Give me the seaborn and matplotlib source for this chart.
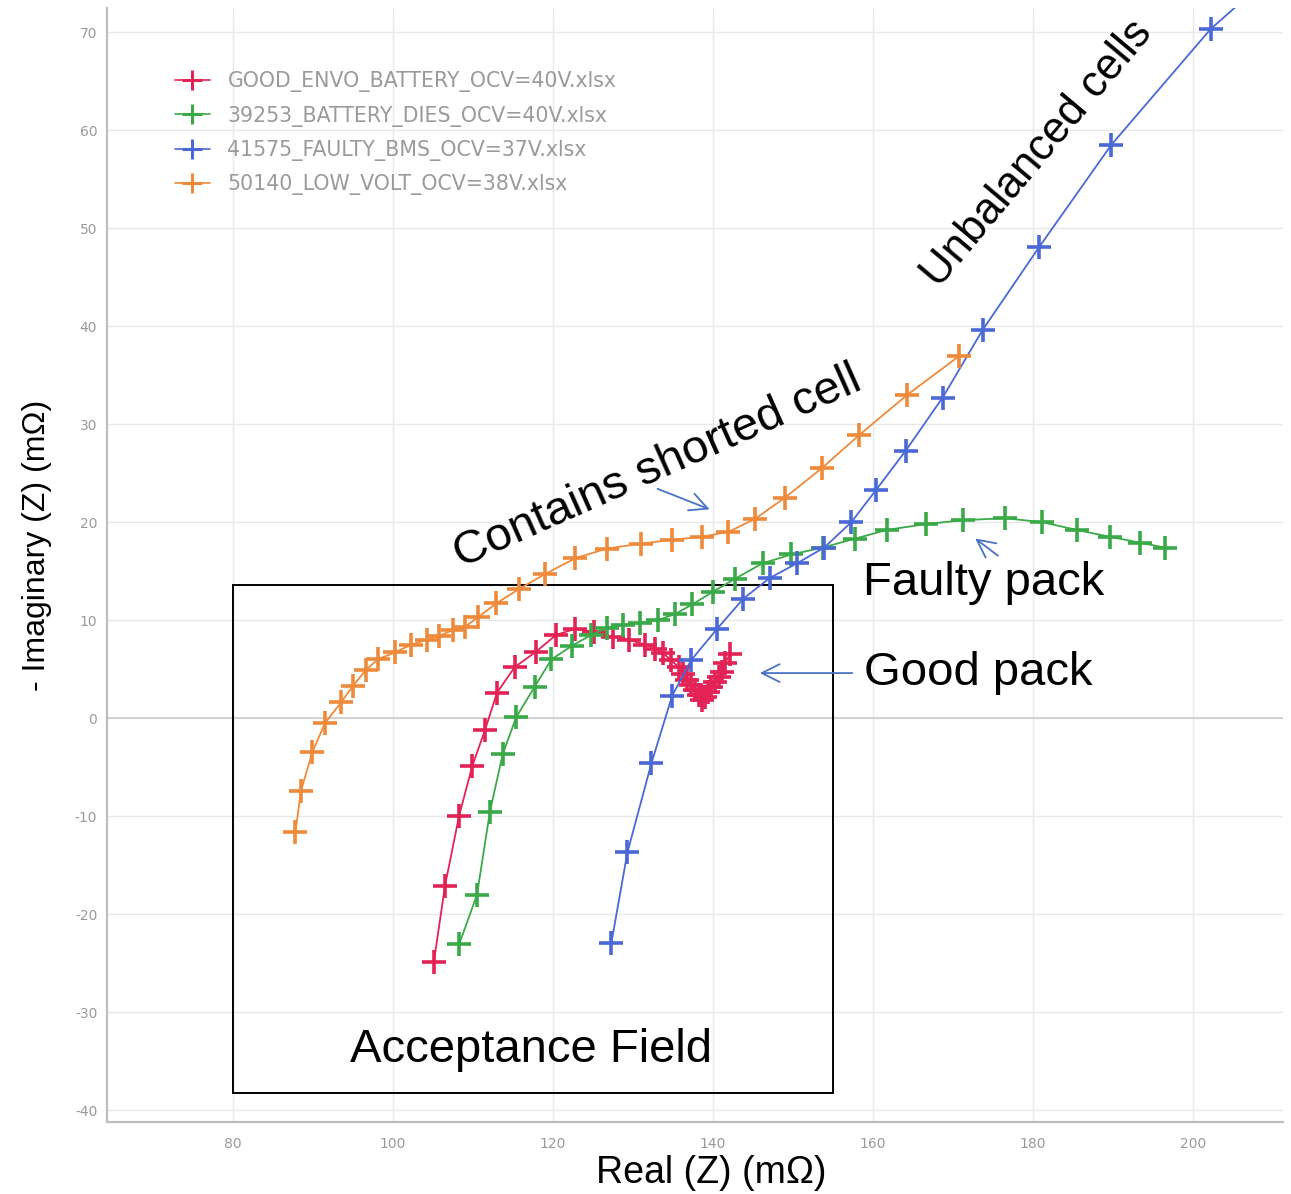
import matplotlib
matplotlib.use("Agg")
import matplotlib.pyplot as plt
import matplotlib.patches as patches
from matplotlib.lines import Line2D
import seaborn as sns
import pandas as pd

# ---- data ----
series_names = [
    "GOOD_ENVO_BATTERY_OCV=40V.xlsx",
    "39253_BATTERY_DIES_OCV=40V.xlsx",
    "41575_FAULTY_BMS_OCV=37V.xlsx",
    "50140_LOW_VOLT_OCV=38V.xlsx",
]
series_colors = ["#e32256", "#3aaa48", "#4a68d6", "#ef8a3a"]

red_x = [105.1, 106.5, 108.25, 109.9, 111.5, 113.0, 115.2, 117.9, 120.4, 122.75,
         125.1, 127.5, 129.5, 131.5, 132.75, 133.8, 134.8, 135.7, 136.3, 136.7,
         137.3, 137.75, 138.2, 138.6, 139.0, 139.4, 139.8, 140.25, 140.7, 141.1,
         141.5, 142.1]
red_y = [-24.9, -17.1, -10.0, -4.9, -1.2, 2.6, 5.2, 6.8, 8.5, 9.1,
         8.8, 8.3, 8.0, 7.5, 7.1, 6.6, 5.9, 5.2, 4.5, 3.9,
         3.4, 2.9, 2.35, 1.85, 2.2, 2.7, 3.2, 3.7, 4.2, 4.7,
         5.6, 6.5]

green_x = [108.3, 110.5, 112.1, 113.7, 115.4, 117.7, 119.8, 122.4, 124.8, 126.7,
           128.8, 130.9, 133.1, 135.2, 137.4, 140.0, 142.7, 146.2, 149.8, 153.7,
           157.7, 161.7, 166.6, 171.3, 176.5, 181.1, 185.5, 189.6, 193.4, 196.5]
green_y = [-23.0, -18.0, -9.6, -3.7, 0.1, 3.2, 6.0, 7.4, 8.5, 9.2,
           9.5, 9.7, 10.0, 10.6, 11.6, 12.9, 14.2, 15.8, 16.7, 17.4,
           18.3, 19.2, 19.8, 20.2, 20.4, 20.0, 19.2, 18.5, 17.9, 17.4]

blue_x = [127.3, 129.3, 132.3, 134.9, 137.25, 140.5, 143.8, 147.1, 150.5, 153.9,
          157.3, 160.4, 164.1, 168.7, 173.7, 180.8, 189.8, 202.2, 214.0]
blue_y = [-22.9, -13.7, -4.6, 2.3, 5.9, 9.1, 12.2, 14.3, 15.8, 17.4,
          20.0, 23.3, 27.3, 32.7, 39.6, 48.1, 58.5, 70.3, 78.8]

orange_x = [87.8, 88.5, 89.9, 91.5, 93.5, 95.0, 96.6, 98.1, 100.2, 102.3,
            104.2, 105.8, 107.5, 109.0, 110.6, 112.9, 115.8, 119.0, 122.75, 126.7,
            131.0, 134.9, 138.6, 141.9, 145.2, 149.0, 153.6, 158.3, 164.3, 170.7]
orange_y = [-11.6, -7.4, -3.5, -0.5, 1.6, 3.3, 4.9, 6.0, 6.7, 7.5,
            8.0, 8.4, 9.0, 9.3, 10.3, 11.7, 13.2, 14.7, 16.3, 17.3,
            17.8, 18.2, 18.5, 19.0, 20.3, 22.5, 25.5, 28.9, 33.0, 36.9]

x_ticks = [80, 100, 120, 140, 160, 180, 200]
y_ticks = [-40, -30, -20, -10, 0, 10, 20, 30, 40, 50, 60, 70]

sns.set_style("white")
plt.rcParams["font.family"] = ["DejaVu Sans"]
plt.rcParams["axes.unicode_minus"] = False

fig = plt.figure(figsize=(12.91, 11.94), dpi=100)
ax = fig.add_axes([0.0829, 0.0603, 0.9109, 0.9330])

all_x = [red_x, green_x, blue_x, orange_x]
all_y = [red_y, green_y, blue_y, orange_y]
for name, color, xs, ys in zip(series_names, series_colors, all_x, all_y):
    d = pd.DataFrame({"real": xs, "imag": ys})
    sns.lineplot(data=d, x="real", y="imag", sort=False, estimator=None,
                 color=color, marker="+", markersize=17, markeredgewidth=2.6,
                 markeredgecolor=color, linewidth=1.3, ax=ax, zorder=3,
                 legend=False)

ax.set_xlim(64.25, 211.25)
ax.set_ylim(-41.2, 72.45)
ax.set_xticks(x_ticks)
ax.set_yticks(y_ticks)
ax.grid(True, color="#e8e8e8", linewidth=1.0, zorder=0)
ax.set_axisbelow(True)
ax.axhline(0, color="#d2d2d2", linewidth=1.4, zorder=1)
ax.tick_params(axis="both", length=0, labelsize=10, labelcolor="#9a9a9a")
ax.tick_params(axis="x", pad=11)
ax.tick_params(axis="y", pad=7)

for s in ["top", "right"]:
    ax.spines[s].set_visible(False)
for s in ["left", "bottom"]:
    ax.spines[s].set_color("#bdbdbd")
    ax.spines[s].set_linewidth(1.6)

ax.set_xlabel("Real (Z) (mΩ)", fontsize=27, family="Liberation Sans", color="black")
ax.xaxis.set_label_coords(0.514, -0.030)
ax.set_ylabel("- Imaginary (Z) (mΩ)", fontsize=23, family="Liberation Sans", color="black")
ax.yaxis.set_label_coords(-0.047, 0.518)

# legend
handles = [Line2D([0], [0], color=c, marker="+", markersize=15, markeredgewidth=2.2,
                  linewidth=1.2) for c in series_colors]
ax.legend(handles, series_names, loc="upper left", bbox_to_anchor=(0.0578, 0.943),
          frameon=False, fontsize=14.8, labelcolor="#9a9a9a", handlelength=1.7,
          handletextpad=0.85, labelspacing=0.64, borderaxespad=0, borderpad=0)

# acceptance field
rect = patches.Rectangle((80, -38.2), 75, 51.8, fill=False, edgecolor="black",
                         linewidth=1.4, zorder=2)
ax.add_patch(rect)

txt_kw = dict(family="Liberation Sans", fontsize=34, color="black",
              ha="center", va="center", rotation_mode="anchor", zorder=5)
ax.text(117.2, -33.9, "Acceptance Field", **txt_kw)
ax.text(173.1, 4.6, "Good pack", **txt_kw)
ax.text(173.8, 13.8, "Faulty pack", **txt_kw)
ax.text(133.0, 25.6, "Contains shorted cell", rotation=24, **txt_kw)
txt_kw2 = dict(txt_kw, fontsize=31.5)
ax.text(180.6, 57.6, "Unbalanced cells", rotation=50, **txt_kw2)

arrow_kw = dict(arrowstyle="->", color="#4a72c4", lw=1.3, mutation_scale=32)
ax.annotate("", xy=(139.9, 21.2), xytext=(132.75, 23.5), arrowprops=arrow_kw)
ax.annotate("", xy=(172.5, 18.5), xytext=(175.9, 16.4), arrowprops=arrow_kw)
ax.annotate("", xy=(145.5, 4.6), xytext=(157.75, 4.6), arrowprops=arrow_kw)

fig.savefig("out.png", dpi=100)
